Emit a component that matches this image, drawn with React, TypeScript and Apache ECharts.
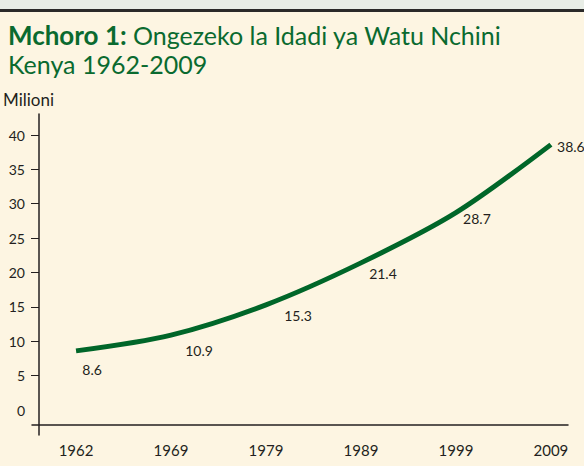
import React, { useEffect, useRef } from "react";
import * as echarts from "echarts";

const years = ["1962", "1969", "1979", "1989", "1999", "2009"];
const population = [8.6, 10.9, 15.3, 21.4, 28.7, 38.6];
const yLabelMin = 0;
const yTickMin = 5;
const yMax = 40;
const yStep = 5;
const labelOffsets = [
  [16, 19],
  [28, 15],
  [32, 11],
  [22, 11],
  [21, 6],
  [20, 2],
];

const TEXT = "#231f20";
const GREEN = "#0a6a2f";
const LINE_GREEN = "#006629";
const BG = "#fdf5e2";
const FONT = "Lato";

export default function App() {
  const ref = useRef<HTMLDivElement>(null);
  useEffect(() => {
    if (!ref.current) return;
    const chart = echarts.init(ref.current, null, { renderer: "svg" });
    const seriesData = population.map((v, i) => ({
      value: [i, v],
      label: { offset: labelOffsets[i] },
    }));
    const hiddenX = (gridIndex: number) => ({ gridIndex, type: "value", show: false });
    const hiddenY = (gridIndex: number) => ({ gridIndex, type: "value", show: false });
    chart.setOption({
      animation: false,
      backgroundColor: BG,
      textStyle: { fontFamily: FONT },
      graphic: [
        { type: "rect", left: 0, top: 0, shape: { width: 584, height: 9 }, style: { fill: "#e8ede6" } },
        { type: "rect", left: 0, top: 9, shape: { width: 584, height: 3 }, style: { fill: "#2b2a29" } },
        {
          type: "text",
          left: 8,
          top: 22,
          style: {
            text: "{b|Mchoro 1: }{r|Ongezeko la Idadi ya Watu Nchini}",
            rich: {
              b: { fontFamily: FONT, fontWeight: "bold", fontSize: 26, fill: GREEN },
              r: { fontFamily: FONT, fontWeight: "normal", fontSize: 25, fill: GREEN },
            },
          },
        },
        {
          type: "text",
          left: 8,
          top: 51,
          style: { text: "Kenya 1962-2009", fontFamily: FONT, fontSize: 25, fill: GREEN },
        },
        {
          type: "text",
          left: 3,
          top: 91,
          style: { text: "Milioni", fontFamily: FONT, fontSize: 17, fill: TEXT },
        },
      ],
      grid: [
        { left: 39, right: 16, top: 135, bottom: 56 },
        { left: 39, right: 16, top: 114, bottom: 31 },
        { left: 32, right: 16, top: 114, bottom: 41 },
        { left: 39, right: 16, top: 135, bottom: 90.4 },
      ],
      xAxis: [
        {
          gridIndex: 0,
          type: "value",
          min: -0.39,
          max: 5.18,
          axisLine: { show: false },
          axisTick: { show: false },
          splitLine: { show: false },
          axisLabel: {
            customValues: years.map((_, i) => i),
            formatter: (v: number) => years[Math.round(v)] ?? "",
            margin: 32,
            fontSize: 15,
            color: TEXT,
            fontFamily: FONT,
          },
        },
        hiddenX(1),
        {
          gridIndex: 2,
          type: "value",
          axisLine: { show: true, lineStyle: { color: TEXT, width: 1.5 } },
          axisTick: { show: false },
          axisLabel: { show: false },
          splitLine: { show: false },
        },
        hiddenX(3),
      ],
      yAxis: [
        {
          gridIndex: 0,
          type: "value",
          min: yLabelMin,
          max: yMax,
          interval: yStep,
          axisLine: { show: false },
          splitLine: { show: false },
          axisTick: { show: false },
          axisLabel: {
            margin: 14,
            fontSize: 14,
            color: TEXT,
            fontFamily: FONT,
          },
        },
        {
          gridIndex: 1,
          type: "value",
          axisLine: { show: true, lineStyle: { color: TEXT, width: 1.5 } },
          axisTick: { show: false },
          axisLabel: { show: false },
          splitLine: { show: false },
        },
        hiddenY(2),
        {
          gridIndex: 3,
          type: "value",
          min: yTickMin,
          max: yMax,
          interval: yStep,
          axisLine: { show: false },
          splitLine: { show: false },
          axisLabel: { show: false },
          axisTick: { show: true, length: 8, lineStyle: { color: TEXT, width: 1 } },
        },
      ],
      series: [
        {
          type: "line",
          xAxisIndex: 0,
          yAxisIndex: 0,
          data: seriesData,
          smooth: 0.3,
          symbol: "circle",
          symbolSize: 0,
          itemStyle: { color: LINE_GREEN },
          lineStyle: { color: LINE_GREEN, width: 5 },
          label: {
            show: true,
            position: "inside",
            align: "center",
            verticalAlign: "middle",
            fontSize: 14,
            color: TEXT,
            fontFamily: FONT,
            formatter: (p: any) => String(p.value[1]),
          },
        },
      ],
    });
    return () => chart.dispose();
  }, []);
  return <div ref={ref} style={{ width: 584, height: 466, position: "absolute", left: 0, top: 0 }} />;
}
